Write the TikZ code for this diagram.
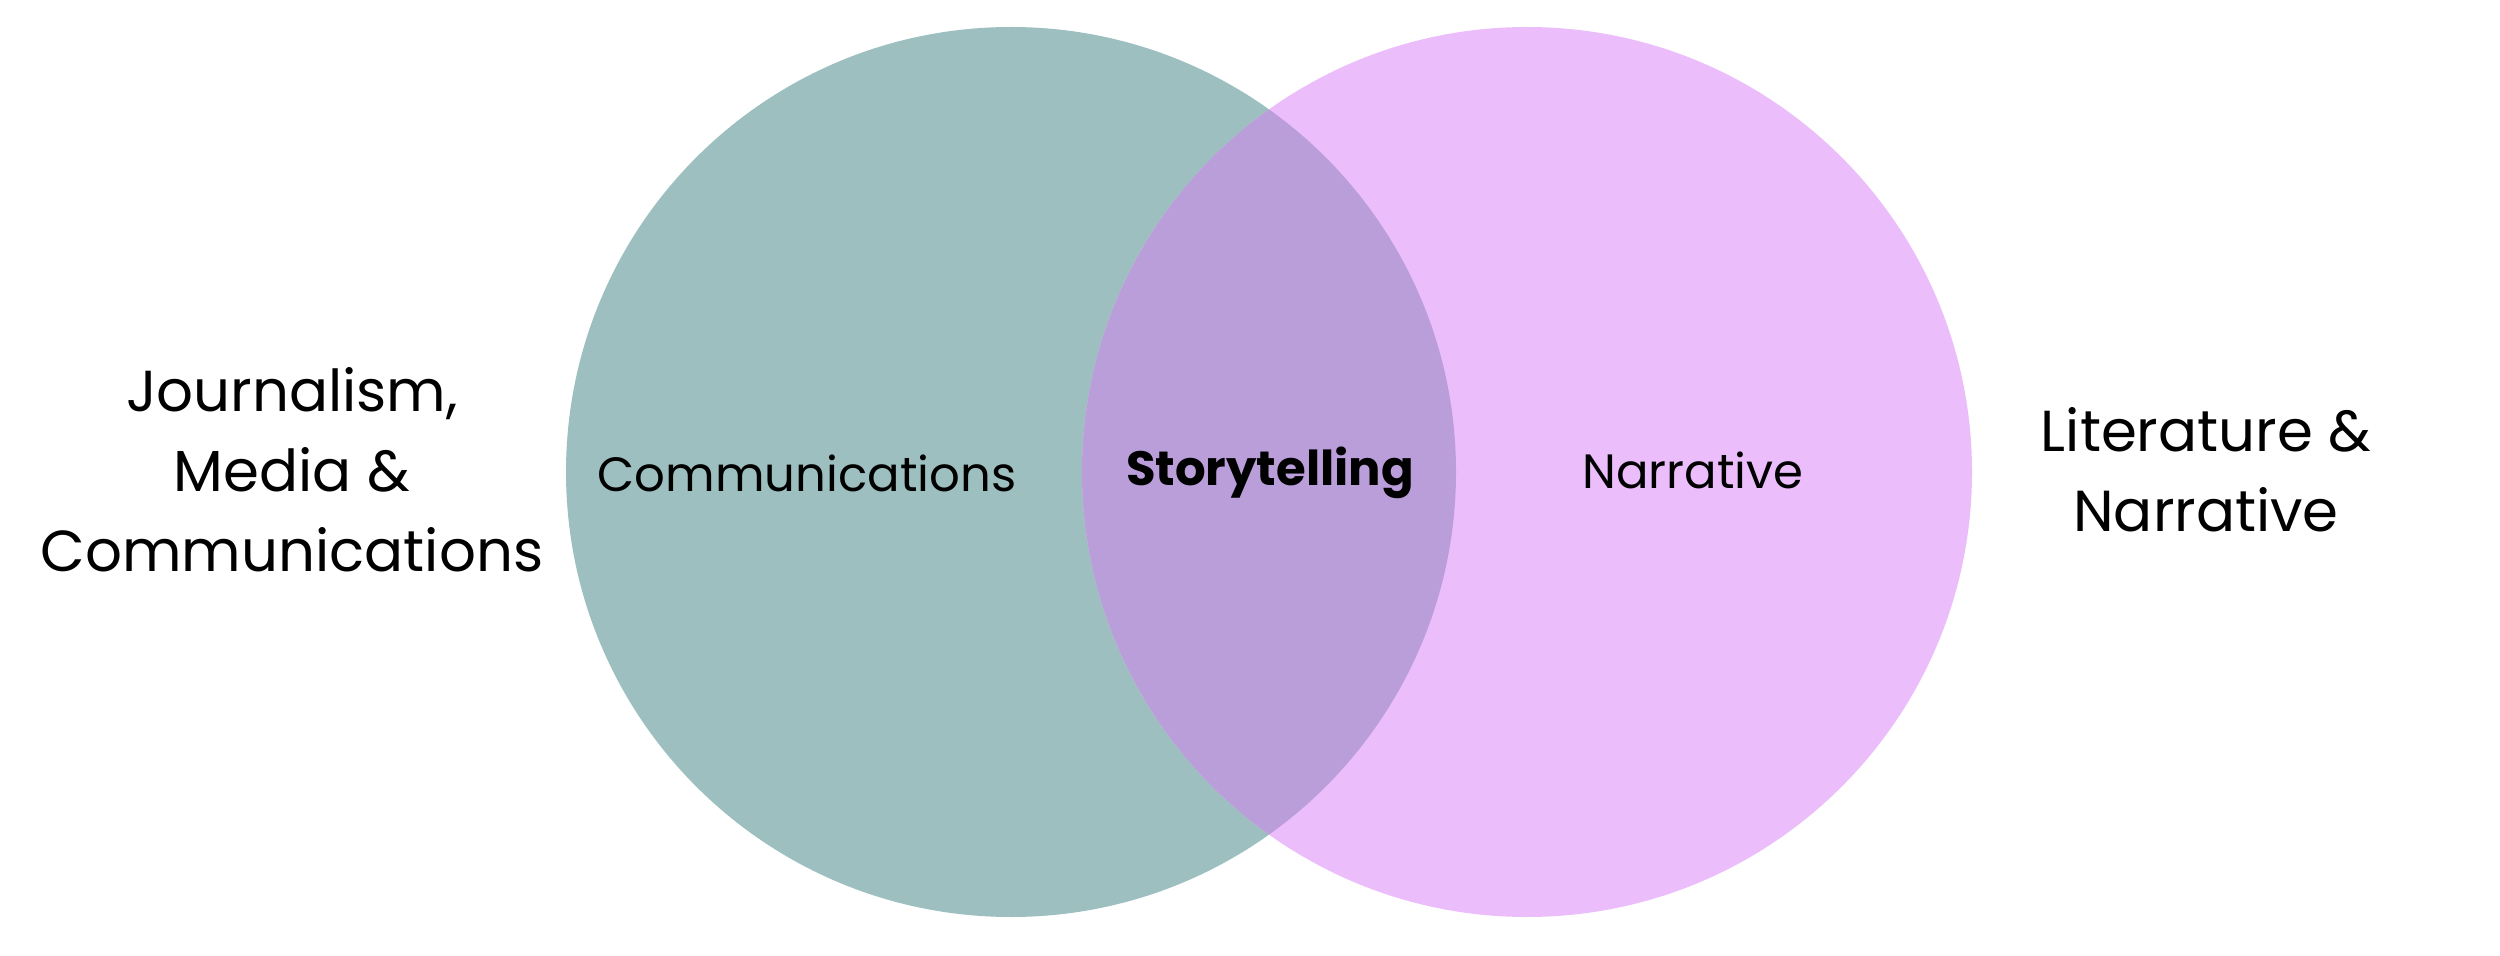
\documentclass[tikz,border=0pt]{standalone}
\usepackage{fontspec}
\setmainfont{Poppins}
\usepackage{xcolor}
\definecolor{tealc}{HTML}{9DBFBF}
\definecolor{pinkc}{HTML}{EBBEFB}
\definecolor{mixc}{HTML}{BA9EDA}
\begin{document}
\begin{tikzpicture}[line cap=round,line join=round,
  outer/.style={font=\fontsize{16.45}{22.7}\selectfont,align=center},
  inner/.style={font=\fontsize{13.7}{17}\selectfont}]
\useasboundingbox (0,0) rectangle (25,9.55);
\fill [tealc] (10.11,4.83) circle (4.45);
\fill [pinkc] (15.27,4.83) circle (4.45);
\begin{scope}
\clip (10.11,4.83) circle (4.45);
\fill [mixc] (15.27,4.83) circle (4.45);
\end{scope}
\node [outer] (jmc) at (2.92,4.85) {Journalism,\\Media \&\\Communications};
\node [outer] (litnar) at (22.06,4.85) {Literature \&\\Narrative};
\node [inner] (comm) at (8.07,4.82) {Communications};
\node [inner,font=\fontsize{13.7}{17}\selectfont\bfseries] (story) at (12.70,4.82) {Storytelling};
\node [inner] (narr) at (16.93,4.85) {Narrative};
\end{tikzpicture}
\end{document}
